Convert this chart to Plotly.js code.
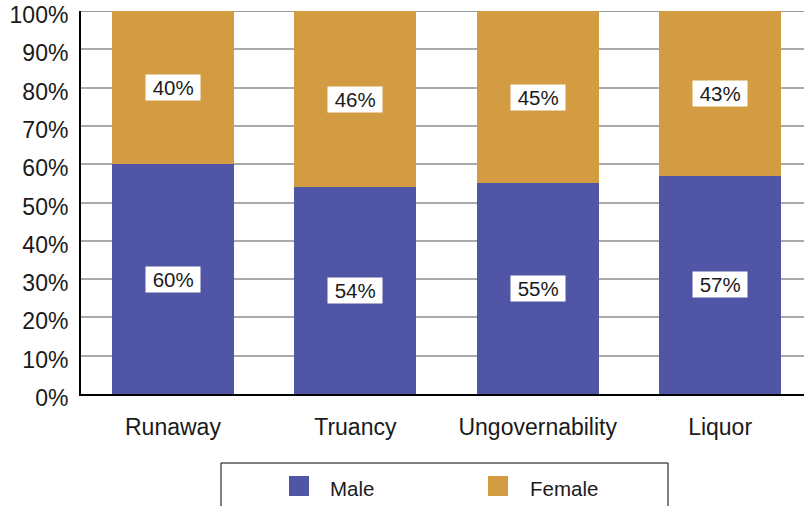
<!DOCTYPE html>
<html>
<head>
<meta charset="utf-8">
<script src="https://cdn.plot.ly/plotly-3.0.1.min.js"></script>
<style>html,body{margin:0;padding:0;background:#fff;}#chart{width:804px;height:506px;}</style>
</head>
<body>
<div id="chart"></div>
<script>
const categories = ["Runaway", "Truancy", "Ungovernability", "Liquor"];
const maleValues = [60, 54, 55, 57];
const femaleValues = [40, 46, 45, 43];
const seriesNames = ["Male", "Female"];
const yTickVals = [0, 10, 20, 30, 40, 50, 60, 70, 80, 90, 100];

const maleColor = "#5155a5";
const femaleColor = "#d39c42";
const FONT = "Liberation Sans, Arial, sans-serif";

const traces = [
  {type: "bar", name: seriesNames[0], x: categories, y: maleValues,
   marker: {color: maleColor, line: {width: 0}}, width: 0.67, showlegend: false, hoverinfo: "none"},
  {type: "bar", name: seriesNames[1], x: categories, y: femaleValues,
   marker: {color: femaleColor, line: {width: 0}}, width: 0.67, showlegend: false, hoverinfo: "none"}
];

const annotations = [];
categories.forEach((c, i) => {
  annotations.push({x: i, y: maleValues[i] / 2, xref: "x", yref: "y",
    text: "\u00a0" + maleValues[i] + "%\u00a0", showarrow: false,
    font: {family: FONT, size: 20.5, color: "#1a1a1a"}, bgcolor: "#ffffff", borderpad: 1});
  annotations.push({x: i, y: maleValues[i] + femaleValues[i] / 2, xref: "x", yref: "y",
    text: "\u00a0" + femaleValues[i] + "%\u00a0", showarrow: false,
    font: {family: FONT, size: 20.5, color: "#1a1a1a"}, bgcolor: "#ffffff", borderpad: 1});
});

// manual legend (paper coordinates)
const W = 723, H = 383, L = 81, T = 11;
const px = p => (p - L) / W;
const py = p => (T + H - p) / H;
const shapes = [
  {type: "line", xref: "paper", yref: "y", x0: 0, x1: 1, y0: 100, y1: 100,
   line: {color: "#999999", width: 2}, layer: "below"},
  {type: "rect", xref: "paper", yref: "paper", x0: px(221), x1: px(668), y0: py(463), y1: py(520),
   line: {color: "#000", width: 1}, fillcolor: "rgba(0,0,0,0)"},
  {type: "rect", xref: "paper", yref: "paper", x0: px(289), x1: px(309), y0: py(476), y1: py(496),
   line: {width: 0}, fillcolor: maleColor},
  {type: "rect", xref: "paper", yref: "paper", x0: px(488), x1: px(508), y0: py(476), y1: py(496),
   line: {width: 0}, fillcolor: femaleColor}
];
annotations.push({xref: "paper", yref: "paper", x: px(328), y: py(488), xanchor: "left", yanchor: "middle",
  text: seriesNames[0], showarrow: false, font: {family: FONT, size: 20.5, color: "#1a1a1a"}});
annotations.push({xref: "paper", yref: "paper", x: px(528), y: py(488), xanchor: "left", yanchor: "middle",
  text: seriesNames[1], showarrow: false, font: {family: FONT, size: 20.5, color: "#1a1a1a"}});

const layout = {
  width: 804, height: 506,
  margin: {l: L, r: 0, t: T, b: 506 - T - H, pad: 0},
  barmode: "stack",
  paper_bgcolor: "#fff", plot_bgcolor: "#fff",
  showlegend: false,
  font: {family: FONT, color: "#1a1a1a"},
  xaxis: {type: "category", range: [-0.504, 3.46], showline: true, linecolor: "#000", linewidth: 2,
    showgrid: false, zeroline: false, ticks: "", tickfont: {family: FONT, size: 23, color: "#1a1a1a"},
    ticklabelstandoff: 11, fixedrange: true},
  yaxis: {range: [0, 100], tickvals: yTickVals, ticktext: yTickVals.map(v => v + "%"),
    showline: true, linecolor: "#000", linewidth: 2, showgrid: true, gridcolor: "#aaaaaa", gridwidth: 2,
    zeroline: false, ticks: "", tickfont: {family: FONT, size: 23, color: "#1a1a1a"},
    ticklabelstandoff: 6, ticklabelshift: 4, ticklabeloverflow: "allow", fixedrange: true},
  annotations: annotations,
  shapes: shapes
};

Plotly.newPlot("chart", traces, layout, {displayModeBar: false, staticPlot: true});
</script>
</body>
</html>
